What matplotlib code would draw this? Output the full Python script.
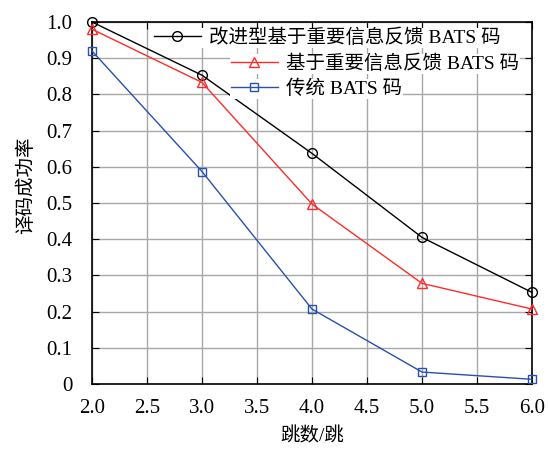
import matplotlib
matplotlib.use('Agg')
import matplotlib.pyplot as plt

plt.rcParams['font.family'] = ['Liberation Serif', 'Noto Sans CJK SC']

hops = [2.0, 3.0, 4.0, 5.0, 6.0]
improved = [1.0, 0.853, 0.637, 0.405, 0.253]
feedback = [0.98, 0.833, 0.497, 0.278, 0.207]
classic = [0.92, 0.587, 0.207, 0.033, 0.013]

names = ['改进型基于重要信息反馈 BATS 码', '基于重要信息反馈 BATS 码', '传统 BATS 码']

x_ticks = [2.0, 2.5, 3.0, 3.5, 4.0, 4.5, 5.0, 5.5, 6.0]
y_ticks = [0, 0.1, 0.2, 0.3, 0.4, 0.5, 0.6, 0.7, 0.8, 0.9, 1.0]
y_labels = ['0', '0.1', '0.2', '0.3', '0.4', '0.5', '0.6', '0.7', '0.8', '0.9', '1.0']

fig = plt.figure(figsize=(5.48, 4.49), dpi=100)
ax = fig.add_axes([92/548, 1-384/449, 440/548, 362/449])

l1, = ax.plot(hops, improved, color='black', marker='o', mfc='none', ms=7, lw=1, clip_on=False, zorder=5)
l2, = ax.plot(hops, feedback, color='#ff2a2a', marker='^', mfc='none', ms=7.5, lw=1, clip_on=False, zorder=5)
l3, = ax.plot(hops, classic, color='#2850b0', marker='s', mfc='none', ms=5.5, lw=1, clip_on=False, zorder=5)

ax.set_xlim(2.0, 6.0)
ax.set_ylim(0, 1.0)
ax.set_xticks(x_ticks)
ax.set_xticklabels(['%.1f' % v for v in x_ticks])
ax.set_yticks(y_ticks)
ax.set_yticklabels(y_labels)
ax.tick_params(direction='in', top=True, right=True, length=5, labelsize=15)
ax.tick_params(axis='x', pad=11)
ax.tick_params(axis='y', pad=14)
ax.grid(True, color='#a8a8a8', lw=1)
ax.set_axisbelow(True)
for s in ax.spines.values():
    s.set_linewidth(1.2)

ax.set_xlabel('跳数/跳', fontsize=14)
ax.xaxis.set_label_coords(0.5, -0.12)
ax.set_ylabel('译码成功率', fontsize=14)
ax.yaxis.set_label_coords(-0.13, 0.55)

# legend rows placed one by one, like the original
rows = [(l1, names[0], 0.139, 0.956), (l2, names[1], 0.314, 0.884), (l3, names[2], 0.314, 0.815)]
for h, n, lx, ly in rows:
    lg = ax.legend([h], [n], loc='center left', bbox_to_anchor=(lx, ly), fontsize=14,
                   handlelength=2.4, handletextpad=0.4, borderpad=0.05, borderaxespad=0,
                   frameon=True, fancybox=False, edgecolor='none', facecolor='white', framealpha=1)
    ax.add_artist(lg)

fig.savefig('out.png', dpi=100)
